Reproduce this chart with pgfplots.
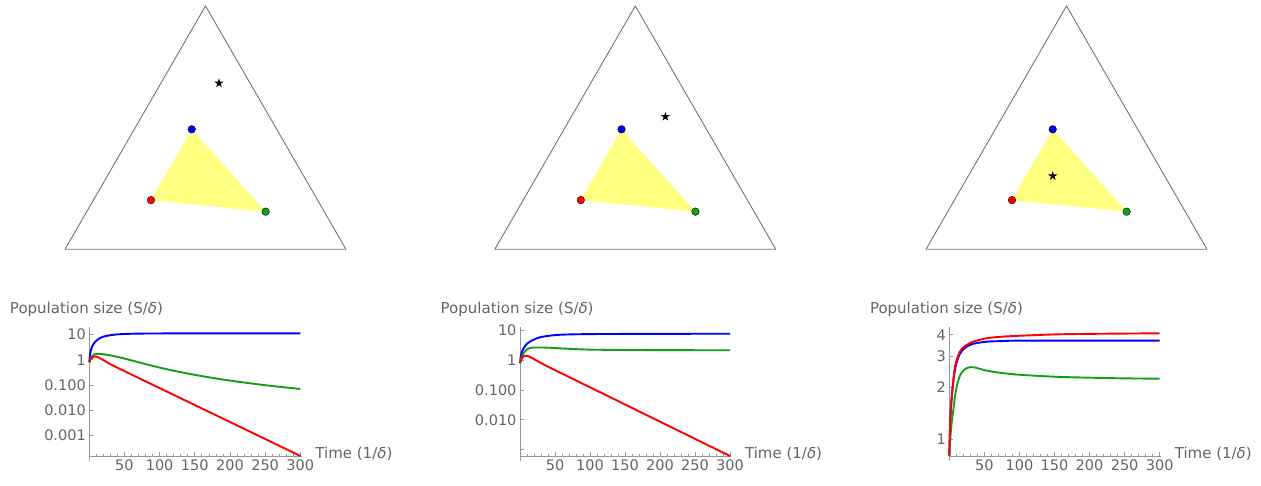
\documentclass[border=0pt]{standalone}
\usepackage{fontspec}
\setmainfont{DejaVu Sans}
\usepackage{pgfplots}
\pgfplotsset{compat=1.18}
\definecolor{txtgray}{RGB}{100,100,100}
\definecolor{axgray}{RGB}{150,150,150}
\definecolor{mblue}{RGB}{0,0,255}
\definecolor{mred}{RGB}{255,0,0}
\definecolor{mgreen}{RGB}{20,160,20}
\definecolor{myellow}{RGB}{255,255,128}
\pgfdeclareplotmark{fstar}{%
\pgfpathmoveto{\pgfpointpolar{90}{\pgfplotmarksize}}%
\pgfpathlineto{\pgfpointpolar{126}{0.382\pgfplotmarksize}}%
\pgfpathlineto{\pgfpointpolar{162}{\pgfplotmarksize}}%
\pgfpathlineto{\pgfpointpolar{198}{0.382\pgfplotmarksize}}%
\pgfpathlineto{\pgfpointpolar{234}{\pgfplotmarksize}}%
\pgfpathlineto{\pgfpointpolar{270}{0.382\pgfplotmarksize}}%
\pgfpathlineto{\pgfpointpolar{306}{\pgfplotmarksize}}%
\pgfpathlineto{\pgfpointpolar{342}{0.382\pgfplotmarksize}}%
\pgfpathlineto{\pgfpointpolar{18}{\pgfplotmarksize}}%
\pgfpathlineto{\pgfpointpolar{54}{0.382\pgfplotmarksize}}%
\pgfpathclose
\pgfusepathqfill}
\pgfplotsset{
 simplex/.style={scale only axis, hide axis, width=281pt, height=243.35pt,
   xmin=0, xmax=1, ymin=0, ymax=0.86603, clip=false, anchor=south west},
 popplot/.style={scale only axis, anchor=south west, height=128.7pt,
   axis lines*=left, axis line style={axgray, line width=0.8pt},
   y axis line style={shorten <=-5pt},
   tick style={axgray, line width=0.7pt}, tick align=inside,
   major tick length=4pt, minor tick length=2.5pt,
   xmin=0, xmax=302, xtick={50,100,...,300}, minor xtick={10,20,...,290},
   xticklabels={50,100,150,200,250,300},
   yminorticks=false,
   ticklabel style={txtgray, font=\fontsize{14.5pt}{17pt}\selectfont},
   /pgf/number format/assume math mode=true, clip=false,
   every axis x label/.style={at={(rel axis cs:1,0)}, anchor=base west, inner sep=0pt, xshift=13.5pt, yshift=-2.3pt, txtgray, font=\fontsize{15pt}{18pt}\selectfont},
   every axis y label/.style={at={(rel axis cs:0,1)}, anchor=base west, inner sep=0pt, xshift=-79.5pt, yshift=14pt, txtgray, font=\fontsize{15pt}{18pt}\selectfont},
   xlabel={Time (1/\textit{δ})}, ylabel={Population size (S/\textit{δ})},
   no markers, every axis plot/.append style={line width=1.9pt, smooth, line join=round}},
 tri/.style={draw=black!55, line width=0.9pt, line join=round},
 yel/.style={fill=myellow, draw=none},
 bdot/.style={only marks, mark=*, mark size=3.8pt, mark options={draw=none, fill=mblue}},
 rdot/.style={only marks, mark=*, mark size=3.8pt, mark options={draw=none, fill=mred}},
 gdot/.style={only marks, mark=*, mark size=3.8pt, mark options={draw=none, fill=mgreen}},
 sdot/.style={only marks, mark=fstar, mark size=4.8pt, mark options={fill=black}},
}
\begin{document}
\begin{tikzpicture}
\path[use as bounding box] (0,0) rectangle (1261pt,485pt);
% ---------- simplex 1
\begin{axis}[simplex, at={(65pt,235.7pt)}]
\addplot[tri] coordinates {(0,0) (1,0) (0.5,0.86603) (0,0)};
\addplot[yel] coordinates {(0.306,0.175) (0.451,0.427) (0.714,0.134)};
\addplot[bdot] coordinates {(0.451,0.427)};
\addplot[rdot] coordinates {(0.306,0.175)};
\addplot[gdot] coordinates {(0.714,0.134)};
\addplot[sdot] coordinates {(0.548,0.591)};
\end{axis}
% ---------- simplex 2
\begin{axis}[simplex, at={(494.8pt,235.7pt)}]
\addplot[tri] coordinates {(0,0) (1,0) (0.5,0.86603) (0,0)};
\addplot[yel] coordinates {(0.306,0.175) (0.451,0.427) (0.714,0.134)};
\addplot[bdot] coordinates {(0.451,0.427)};
\addplot[rdot] coordinates {(0.306,0.175)};
\addplot[gdot] coordinates {(0.714,0.134)};
\addplot[sdot] coordinates {(0.607,0.472)};
\end{axis}
% ---------- simplex 3
\begin{axis}[simplex, at={(926pt,235.7pt)}]
\addplot[tri] coordinates {(0,0) (1,0) (0.5,0.86603) (0,0)};
\addplot[yel] coordinates {(0.306,0.175) (0.451,0.427) (0.714,0.134)};
\addplot[bdot] coordinates {(0.451,0.427)};
\addplot[rdot] coordinates {(0.306,0.175)};
\addplot[gdot] coordinates {(0.714,0.134)};
\addplot[sdot] coordinates {(0.451,0.261)};
\end{axis}
% ---------- population 1
\begin{axis}[ymode=log, popplot, at={(89.3pt,29pt)}, width=212.4pt, ymin=1.5e-4, ymax=19.5,
  ytick={0.001,0.01,0.1,1,10}, yticklabels={0.001,0.010,0.100,1,10}]
\addplot[mblue] coordinates {(0,0.8) (1,1.6) (2,2.2) (3,2.8) (5,3.8) (8,5.0) (10,5.7) (15,7.3) (20,8.3) (30,9.5) (40,10.2) (50,10.6) (70,10.95) (100,11.1) (150,11.2) (200,11.2) (300,11.2)};
\addplot[mgreen] coordinates {(0,0.8) (2,1.15) (4,1.4) (6,1.57) (8,1.67) (11,1.72) (15,1.706) (20,1.659) (30,1.496) (40,1.305) (55,1.028) (70,0.797) (90,0.572) (110,0.422) (140,0.2836) (170,0.2009) (200,0.149) (250,0.0977) (300,0.0689)};
\addplot[mred] coordinates {(0,0.8) (2,1.05) (4,1.22) (6,1.32) (8,1.35) (10,1.33) (13,1.24) (17,1.08) (22,0.9) (30,0.67) (40,0.485) (50,0.353) (65,0.222) (80,0.139) (100,0.075) (125,0.0345) (150,0.0159) (175,7.33e-3) (200,3.37e-3) (250,7.14e-4) (300,1.51e-4)};
\end{axis}
% ---------- population 2
\begin{axis}[ymode=log, popplot, at={(520pt,29pt)}, width=211.4pt, ymin=6.07e-4, ymax=12.85,
  ytick={0.001,0.01,0.1,1,10}, yticklabels={{},0.010,0.100,1,10}]
\addplot[mblue] coordinates {(0,0.8) (1,1.3) (2,1.65) (3,1.95) (5,2.5) (8,3.2) (10,3.6) (14,4.2) (20,5.0) (28,5.9) (40,6.6) (52,7.1) (70,7.4) (100,7.6) (150,7.7) (200,7.75) (300,7.8)};
\addplot[mgreen] coordinates {(0,0.8) (2,1.2) (5,1.7) (8,2.1) (10,2.35) (14,2.58) (19,2.68) (25,2.7) (38,2.67) (60,2.5) (95,2.3) (130,2.24) (200,2.2) (300,2.17)};
\addplot[mred] coordinates {(0,0.8) (2,1.08) (4,1.28) (6,1.38) (8,1.42) (10,1.41) (13,1.33) (17,1.2) (22,1.03) (30,0.81) (40,0.61) (50,0.467) (65,0.314) (80,0.211) (100,0.124) (125,0.0637) (150,0.0328) (175,0.0168) (200,8.67e-3) (250,2.29e-3) (300,6.07e-4)};
\end{axis}
% ---------- population 3
\begin{axis}[ymode=log, popplot, at={(949.3pt,29pt)}, width=211.8pt, ymin=0.797, ymax=4.42,
  ytick={1,2,3,4}, yticklabels={1,2,3,4}]
\addplot[mblue] coordinates {(0,0.8) (1,1.15) (2,1.45) (3,1.65) (4,1.83) (6,2.2) (8,2.5) (10.5,2.78) (15,3.1) (20,3.3) (25,3.42) (34,3.55) (53,3.65) (75,3.68) (100,3.7) (200,3.7) (300,3.7)};
\addplot[mgreen] coordinates {(0,0.8) (1,0.95) (2,1.08) (3,1.2) (4,1.3) (6,1.5) (8,1.75) (10.5,2.0) (15,2.32) (20,2.48) (25,2.57) (30,2.6) (38,2.58) (50,2.5) (70,2.42) (100,2.35) (150,2.29) (200,2.26) (250,2.24) (300,2.23)};
\addplot[mred] coordinates {(0,0.8) (1,1.15) (2,1.45) (3,1.65) (4,1.85) (6,2.25) (8,2.6) (10.5,2.86) (15,3.2) (20,3.38) (25,3.5) (34,3.65) (53,3.82) (75,3.9) (100,3.95) (150,4.02) (200,4.05) (300,4.08)};
\end{axis}
\end{tikzpicture}
\end{document}
